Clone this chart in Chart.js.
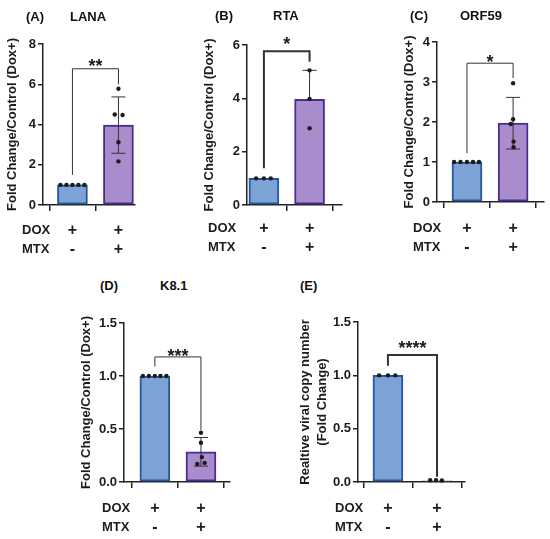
<!DOCTYPE html>
<html>
<head>
<meta charset="utf-8">
<script src="https://cdn.jsdelivr.net/npm/chart.js@4.4.0/dist/chart.umd.min.js"></script>
<style>
  body { margin: 0; background: #fff; width: 550px; height: 539px; position: relative; overflow: hidden; font-family: "Liberation Sans", Arial, sans-serif; }
  canvas { position: absolute; }
  .lbl { position: absolute; font-weight: bold; font-size: 13px; line-height: 1; white-space: nowrap; transform: translateY(-50%); color: #111; }
</style>
</head>
<body>
<script>
// x rows under each panel
const rowNames = ['DOX', 'MTX'];
const doxRow = ['+', '+'];
const mtxRow = ['-', '+'];

// (A) LANA
const lanaMean = [1.0, 3.97];
const lanaSD = [0, 1.4];
const lanaCtrl = [1, 1, 1, 1, 1];
const lanaMtx = [5.78, 4.5, 4.47, 3.12, 2.17];
const lanaSpread = [[-0.26, -0.13, 0, 0.13, 0.26], [0, -0.08, 0.09, 0, 0]];
const lanaBracket = [1.5, 6.77, 6.0];
const lanaTicks = [0, 8, 2];

// (B) RTA
const rtaMean = [1.0, 3.96];
const rtaSD = [0, 1.09];
const rtaCtrl = [1, 1, 1];
const rtaMtx = [5.05, 3.98, 2.88];
const rtaSpread = [[-0.17, 0, 0.15], [0, 0, 0]];
const rtaBracket = [1.38, 5.77, 5.37];
const rtaTicks = [0, 6, 2];

// (C) ORF59
const orfMean = [1.0, 1.97];
const orfSD = [0, 0.645];
const orfCtrl = [1, 1, 1, 1, 1];
const orfMtx = [2.97, 2.07, 1.95, 1.51, 1.37];
const orfSpread = [[-0.28, -0.14, 0, 0.13, 0.26], [0, 0, -0.05, 0.01, 0.01]];
const orfBracket = [1.22, 3.47, 3.1];
const orfTicks = [0, 4, 1];

// (D) K8.1
const k81Mean = [1.0, 0.285];
const k81SD = [0, 0.135];
const k81Ctrl = [1, 1, 1, 1, 1];
const k81Mtx = [0.465, 0.37, 0.235, 0.18, 0.17];
const k81Spread = [[-0.26, -0.13, 0, 0.12, 0.25], [0, 0, 0.02, 0.08, -0.08]];
const k81Bracket = [1.09, 1.18, 0.49];
const k81Ticks = [0, 1.5, 0.5];

// (E) viral copy number
const copyMean = [1.0, 0.012];
const copySD = [0, 0];
const copyCtrl = [1, 1, 1];
const copyMtx = [0.016, 0.018, 0.014];
const copySpread = [[-0.18, 0, 0.15], [-0.14, -0.02, 0.1]];
const copyBracket = [1.09, 1.19, 0.05];
const copyTicks = [0, 1.5, 0.5];

const FONT = '"Liberation Sans", Arial, sans-serif';
const INK = '#1c1c1c';
const fills = ['#7ca2d6', '#a88ccc'];
const lines = ['#2457a0', '#4b2d91'];
const foldTitle = 'Fold Change/Control (Dox+)';

const panels = [
  { tag: '(A)', gene: 'LANA', mean: lanaMean, sd: lanaSD, reps: [lanaCtrl, lanaMtx], spread: lanaSpread, sig: '**', bracket: lanaBracket, ticks: lanaTicks, yTitle: foldTitle,
    box: { x: 43, right: 135, top: 44, bottom: 205, yW: 38, xMin: 0.36, xMax: 2.36, rowPad: 9.5, rowX: -21, tagX: 26, tagY: 16, geneX: 70, starGap: 7, bw: 1, upOnly: false } },
  { tag: '(B)', gene: 'RTA', mean: rtaMean, sd: rtaSD, reps: [rtaCtrl, rtaMtx], spread: rtaSpread, sig: '*', bracket: rtaBracket, ticks: rtaTicks, yTitle: foldTitle,
    box: { x: 247, right: 342, top: 45, bottom: 205, yW: 45, xMin: 0.63, xMax: 2.71, rowPad: 7.5, rowX: -39, tagX: 215, tagY: 15, geneX: 273, starGap: 11, bw: 2, upOnly: true } },
  { tag: '(C)', gene: 'ORF59', mean: orfMean, sd: orfSD, reps: [orfCtrl, orfMtx], spread: orfSpread, sig: '*', bracket: orfBracket, ticks: orfTicks, yTitle: foldTitle,
    box: { x: 437, right: 544, top: 42, bottom: 202, yW: 35, xMin: 0.35, xMax: 2.67, rowPad: 11, rowX: -24, tagX: 410, tagY: 15, geneX: 460, starGap: 5, bw: 1, upOnly: false } },
  { tag: '(D)', gene: 'K8.1', mean: k81Mean, sd: k81SD, reps: [k81Ctrl, k81Mtx], spread: k81Spread, sig: '***', bracket: k81Bracket, ticks: k81Ticks, yTitle: foldTitle,
    box: { x: 124, right: 230, top: 323, bottom: 482, yW: 45, xMin: 0.33, xMax: 2.63, rowPad: 11, rowX: -22, tagX: 100, tagY: 285, geneX: 160, starGap: 5, bw: 1, upOnly: false } },
  { tag: '(E)', gene: '', mean: copyMean, sd: copySD, reps: [copyCtrl, copyMtx], spread: copySpread, sig: '****', bracket: copyBracket, ticks: copyTicks, yTitle: ['Realtive viral copy number', '(Fold Change)'],
    box: { x: 358, right: 465, top: 322, bottom: 482, yW: 61, xMin: 0.39, xMax: 2.57, rowPad: 11, rowX: -23, tagX: 300, tagY: 285, geneX: 0, starGap: 11, bw: 2, upOnly: false } }
];

// error bars, significance bracket and the DOX / MTX row names
const extras = {
  id: 'extras',
  afterDatasetDraw(chart, args) {
    if (args.meta.type !== 'bar') return;
    const p = chart.config.options.plugins.extras.panel;
    const { ctx, scales: { x, y } } = chart;
    ctx.save();
    ctx.strokeStyle = '#333';
    ctx.lineWidth = 1;
    p.mean.forEach((m, i) => {
      if (!p.sd[i]) return;
      const px = x.getPixelForValue(i + 1);
      const yHi = y.getPixelForValue(m + p.sd[i]);
      const yLo = p.box.upOnly ? y.getPixelForValue(m) : y.getPixelForValue(m - p.sd[i]);
      ctx.beginPath();
      ctx.moveTo(px, yLo); ctx.lineTo(px, yHi);
      ctx.moveTo(px - 7, yHi); ctx.lineTo(px + 7, yHi);
      if (!p.box.upOnly) { ctx.moveTo(px - 7, yLo); ctx.lineTo(px + 7, yLo); }
      ctx.stroke();
    });
    ctx.restore();
  },
  afterDraw(chart) {
    const p = chart.config.options.plugins.extras.panel;
    const { ctx, chartArea, scales: { x, y } } = chart;
    const [lb, top, rb] = p.bracket;
    const x1 = x.getPixelForValue(1), x2 = x.getPixelForValue(2);
    const yt = y.getPixelForValue(top);
    ctx.save();
    ctx.strokeStyle = '#333';
    ctx.lineWidth = p.box.bw;
    ctx.beginPath();
    ctx.moveTo(x1, y.getPixelForValue(lb));
    ctx.lineTo(x1, yt);
    ctx.lineTo(x2, yt);
    ctx.lineTo(x2, y.getPixelForValue(rb));
    ctx.stroke();
    ctx.fillStyle = INK;
    ctx.textAlign = 'center';
    ctx.textBaseline = 'alphabetic';
    ctx.font = 'bold 18px ' + FONT;
    ctx.fillText(p.sig, (x1 + x2) / 2, yt - p.box.starGap + 10);

    // row names level with the tick rows
    const lh = 16 * 1.2;
    const row0 = x.top + 6 + p.box.rowPad + lh / 2;
    ctx.font = 'bold 13px ' + FONT;
    ctx.textAlign = 'left';
    ctx.textBaseline = 'middle';
    rowNames.forEach((n, i) => ctx.fillText(n, chartArea.left + p.box.rowX, row0 + i * lh));
    ctx.restore();
  }
};

const padTop = 28, padRight = 6, xH = 60;

panels.forEach(p => {
  const b = p.box;
  const cv = document.createElement('canvas');
  const w = b.yW + (b.right - b.x) + padRight;
  const h = padTop + (b.bottom - b.top) + xH;
  cv.width = w; cv.height = h;
  cv.style.left = (b.x - b.yW) + 'px';
  cv.style.top = (b.top - padTop) + 'px';
  cv.style.width = w + 'px'; cv.style.height = h + 'px';
  document.body.appendChild(cv);

  [[p.tag, b.tagX], [p.gene, b.geneX]].forEach(([t, lx]) => {
    if (!t) return;
    const d = document.createElement('div');
    d.className = 'lbl';
    d.textContent = t;
    d.style.left = lx + 'px';
    d.style.top = b.tagY + 'px';
    document.body.appendChild(d);
  });

  const bars = p.mean.map((m, i) => ({ x: i + 1, y: m }));
  const points = [];
  p.reps.forEach((vals, i) => vals.forEach((v, j) => points.push({ x: i + 1 + p.spread[i][j], y: v })));

  const axisFont = { family: FONT, size: 13, weight: 'bold' };

  new Chart(cv, {
    type: 'bar',
    data: {
      datasets: [
        { type: 'scatter', data: points, pointRadius: 2.2, pointHoverRadius: 2.2, pointBackgroundColor: INK, pointBorderWidth: 0, order: 1, clip: false },
        { type: 'bar', data: bars, backgroundColor: fills, borderColor: lines, borderWidth: 2, borderSkipped: false, barThickness: 30, order: 2, clip: false }
      ]
    },
    options: {
      responsive: false,
      animation: false,
      layout: { padding: { top: padTop, right: padRight, left: 0, bottom: 0 } },
      plugins: { legend: { display: false }, tooltip: { enabled: false }, extras: { panel: p } },
      scales: {
        x: {
          type: 'linear', min: b.xMin, max: b.xMax, offset: false,
          afterBuildTicks: s => { s.ticks = [{ value: 1 }, { value: 2 }]; },
          afterFit: s => { s.height = xH; },
          ticks: { autoSkip: false, maxRotation: 0, padding: b.rowPad, color: INK, font: { family: FONT, size: 16, weight: 'bold' },
            callback: v => [doxRow[Math.round(v) - 1], mtxRow[Math.round(v) - 1]] },
          grid: { drawOnChartArea: false, drawTicks: true, tickLength: 6, color: '#222', lineWidth: 1.5 },
          border: { color: '#222', width: 1.5 }
        },
        y: {
          min: p.ticks[0], max: p.ticks[1],
          afterFit: s => { s.width = b.yW; },
          ticks: { stepSize: p.ticks[2], padding: 2, color: INK, font: axisFont,
            callback: v => p.ticks[2] < 1 ? v.toFixed(1) : String(v) },
          title: { display: true, text: p.yTitle, color: INK, padding: 0,
            font: Array.isArray(p.yTitle) ? { family: FONT, size: 13, weight: 'bold', lineHeight: 1.3 } : axisFont },
          grid: { drawOnChartArea: false, drawTicks: true, tickLength: 5, color: '#222', lineWidth: 1.5 },
          border: { color: '#222', width: 1.5 }
        }
      }
    },
    plugins: [extras]
  });
});
</script>
</body>
</html>
